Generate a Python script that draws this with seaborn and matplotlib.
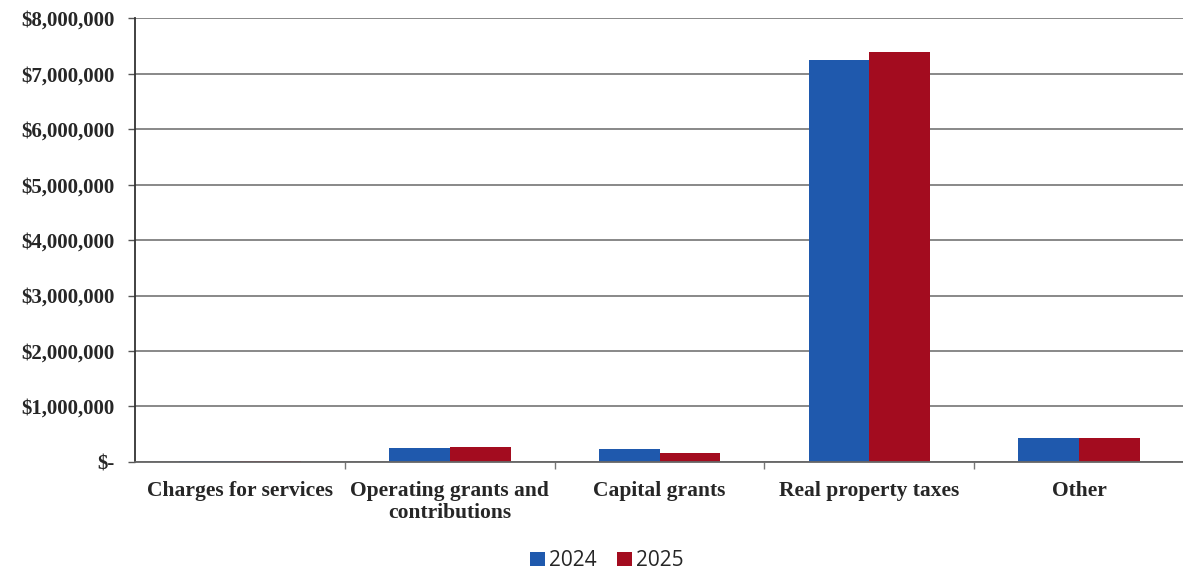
import pandas as pd
import numpy as np
import matplotlib
matplotlib.use("Agg")
import matplotlib.pyplot as plt
import seaborn as sns
from matplotlib.ticker import FuncFormatter, FixedLocator

categories = ["Charges for services", "Operating grants and\ncontributions",
              "Capital grants", "Real property taxes", "Other"]
years = ["2024", "2025"]
values_2024 = [10000, 250000, 235000, 7240000, 430000]
values_2025 = [10000, 270000, 160000, 7390000, 430000]

df = pd.DataFrame({
    "Category": categories * 2,
    "Year": [years[0]] * 5 + [years[1]] * 5,
    "Amount": values_2024 + values_2025,
})

sns.set_style("white")
plt.rcParams["font.family"] = ["Liberation Serif", "DejaVu Serif"]

fig = plt.figure(figsize=(11.83, 5.71), dpi=100)
ax = fig.add_axes([0.114, 0.191, 0.887, 0.777])

palette = {"2024": "#1f59ad", "2025": "#a30c1f"}
sns.barplot(data=df, x="Category", y="Amount", hue="Year", palette=palette,
            width=0.58, saturation=1, ax=ax, edgecolor="none", legend=True)

ax.set_ylim(0, 8000000)
ax.set_xlim(-0.5, 4.5)
ax.yaxis.set_major_locator(FixedLocator(np.arange(0, 8000001, 1000000)))
ax.yaxis.set_major_formatter(FuncFormatter(lambda v, p: "$-" if v == 0 else f"${v:,.0f}"))
ax.yaxis.grid(True, color="#7f7f7f", linewidth=1.3)
ax.set_axisbelow(True)

for s in ["top", "right"]:
    ax.spines[s].set_visible(False)
ax.spines["left"].set_color("#333333")
ax.spines["left"].set_linewidth(1.3)
ax.spines["bottom"].set_color("#666666")
ax.spines["bottom"].set_linewidth(1.3)

ax.tick_params(axis="y", which="major", length=5, width=1, color="#555555",
               labelsize=15, pad=9.5, direction="out", left=True)
ax.tick_params(axis="x", which="major", length=0, labelsize=15.5, pad=14)
ax.xaxis.set_minor_locator(FixedLocator([0.5, 1.5, 2.5, 3.5]))
ax.tick_params(axis="x", which="minor", length=5, width=1, color="#777777", bottom=True)
for lbl in ax.get_yticklabels() + ax.get_xticklabels():
    lbl.set_fontweight("bold")
for lbl in ax.get_xticklabels():
    lbl.set_linespacing(1.1)
ax.set_xlabel("")
ax.set_ylabel("")

handles, labels = ax.get_legend_handles_labels()
ax.get_legend().remove()
fig.legend(handles, labels, loc="center", bbox_to_anchor=(0.513, 0.018), ncol=2, frameon=False,
           handlelength=0.7, handleheight=0.7, handletextpad=0.2, columnspacing=1.0,
           prop={"family": "Open Sans", "size": 15})

fig.savefig("out.png", dpi=100)
